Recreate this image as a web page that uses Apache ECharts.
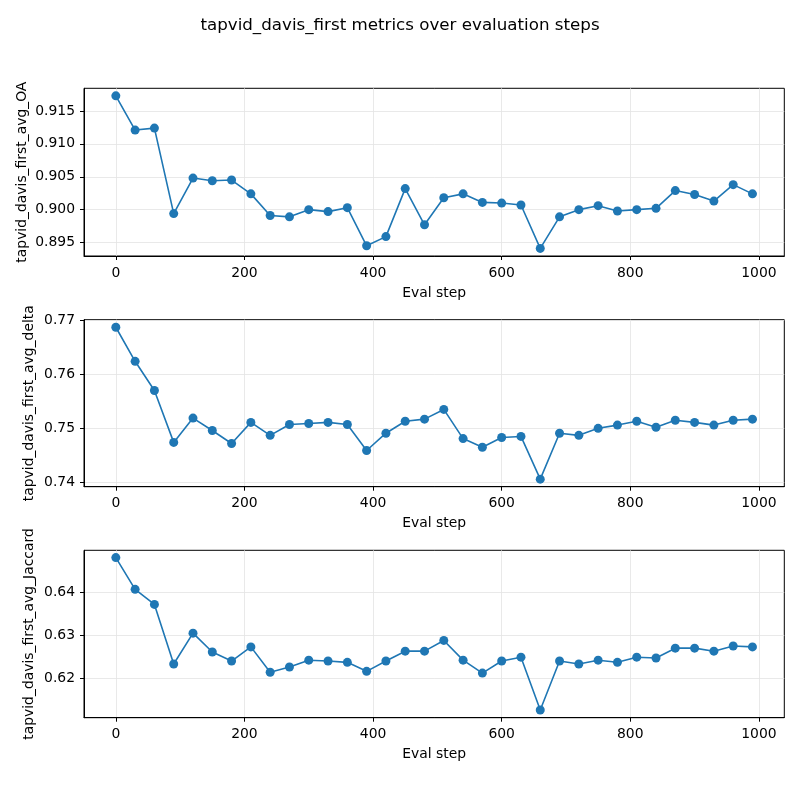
<!DOCTYPE html>
<html>
<head>
<meta charset="utf-8">
<script src="https://cdn.jsdelivr.net/npm/echarts@6/dist/echarts.min.js"></script>
<style>
html,body{margin:0;padding:0;background:#fff;}
#chart{width:800px;height:800px;}
</style>
</head>
<body>
<div id="chart"></div>
<script>
const steps = [0,30,60,90,120,150,180,210,240,270,300,330,360,390,420,450,480,510,540,570,600,630,660,690,720,750,780,810,840,870,900,930,960,990];
const oaValues = [0.9173,0.9121,0.9124,0.8994,0.9048,0.9044,0.9045,0.9024,0.8991,0.8989,0.9000,0.8997,0.9003,0.8945,0.8959,0.9032,0.8977,0.9018,0.9024,0.9011,0.9010,0.9007,0.8941,0.8989,0.9000,0.9006,0.8998,0.9000,0.9002,0.9029,0.9023,0.9013,0.9038,0.9024];
const deltaValues = [0.7687,0.7624,0.7570,0.7474,0.7519,0.7496,0.7472,0.7511,0.7487,0.7507,0.7509,0.7511,0.7507,0.7459,0.7491,0.7513,0.7517,0.7535,0.7481,0.7465,0.7483,0.7485,0.7406,0.7491,0.7487,0.7500,0.7506,0.7513,0.7502,0.7515,0.7511,0.7506,0.7515,0.7517];
const jaccardValues = [0.6481,0.6407,0.6372,0.6233,0.6305,0.6261,0.6240,0.6273,0.6214,0.6226,0.6242,0.6240,0.6237,0.6216,0.6240,0.6263,0.6263,0.6288,0.6242,0.6212,0.6240,0.6249,0.6126,0.6240,0.6233,0.6242,0.6237,0.6249,0.6247,0.6270,0.6270,0.6263,0.6275,0.6273];
const xTicks = [0,200,400,600,800,1000];
const oaTicks = [0.895,0.900,0.905,0.910,0.915];
const deltaTicks = [0.74,0.75,0.76,0.77];
const jaccardTicks = [0.62,0.63,0.64];
const titleText = 'tapvid_davis_first metrics over evaluation steps';
const yNames = ['tapvid_davis_first_avg_OA','tapvid_davis_first_avg_delta','tapvid_davis_first_avg_Jaccard'];
const xName = 'Eval step';

const panels = [
  {vals: oaValues, ticks: oaTicks, dec: 3, min: 0.89295, max: 0.91845, top: 88.3, height: 167.7, gap: 55},
  {vals: deltaValues, ticks: deltaTicks, dec: 2, min: 0.7392, max: 0.7701, top: 319.7, height: 167.0, gap: 48},
  {vals: jaccardValues, ticks: jaccardTicks, dec: 2, min: 0.6108, max: 0.6498, top: 550.3, height: 167.4, gap: 48}
];
const FONT = 'DejaVu Sans';
const grids = [], xAxes = [], yAxes = [], series = [];
panels.forEach((p, i) => {
  grids.push({left: 84, right: 15.7, top: p.top, height: p.height, containLabel: false,
    show: true, borderColor: '#000', borderWidth: 1, backgroundColor: 'transparent'});
  xAxes.push({
    type: 'value', gridIndex: i, min: -49.5, max: 1039.5,
    name: xName, nameLocation: 'middle', nameGap: 30, nameMoveOverlap: false,
    nameTextStyle: {fontFamily: FONT, fontSize: 13.9, color: '#000'},
    axisLine: {show: true, onZero: false, lineStyle: {color: '#000', width: 1}},
    axisTick: {show: true, length: 4, customValues: xTicks, lineStyle: {color: '#000', width: 1}},
    axisLabel: {customValues: xTicks, margin: 10, fontFamily: FONT, fontSize: 13.9, color: '#000',
      formatter: v => String(Math.round(v))},
    splitLine: {show: true, lineStyle: {color: '#e3e3e3', width: 0.8}}
  });
  yAxes.push({
    type: 'value', gridIndex: i, min: p.min, max: p.max, scale: true,
    name: yNames[i], nameLocation: 'middle', nameGap: p.gap, nameRotate: 90, nameMoveOverlap: false,
    nameTextStyle: {fontFamily: FONT, fontSize: 13.9, color: '#000'},
    axisLine: {show: true, onZero: false, lineStyle: {color: '#000', width: 1}},
    axisTick: {show: true, length: 4, customValues: p.ticks, lineStyle: {color: '#000', width: 1}},
    axisLabel: {customValues: p.ticks, margin: 9, fontFamily: FONT, fontSize: 13.9, color: '#000',
      formatter: v => Number(v).toFixed(p.dec)},
    splitLine: {show: true, lineStyle: {color: '#e3e3e3', width: 0.8}}
  });
  series.push({
    type: 'line', xAxisIndex: i, yAxisIndex: i,
    data: steps.map((s, k) => [s, p.vals[k]]),
    symbol: 'circle', symbolSize: 9, showAllSymbol: true,
    lineStyle: {color: '#1f77b4', width: 1.6},
    itemStyle: {color: '#1f77b4', borderWidth: 0},
    emphasis: {disabled: true}, animation: false, z: 3
  });
});

const chart = echarts.init(document.getElementById('chart'), null, {renderer: 'canvas'});
chart.setOption({
  backgroundColor: '#fff',
  animation: false,
  title: {text: titleText, left: 'center', top: 12,
    textStyle: {fontFamily: FONT, fontSize: 16.7, fontWeight: 'normal', color: '#000'}},
  grid: grids, xAxis: xAxes, yAxis: yAxes, series: series
});
</script>
</body>
</html>
